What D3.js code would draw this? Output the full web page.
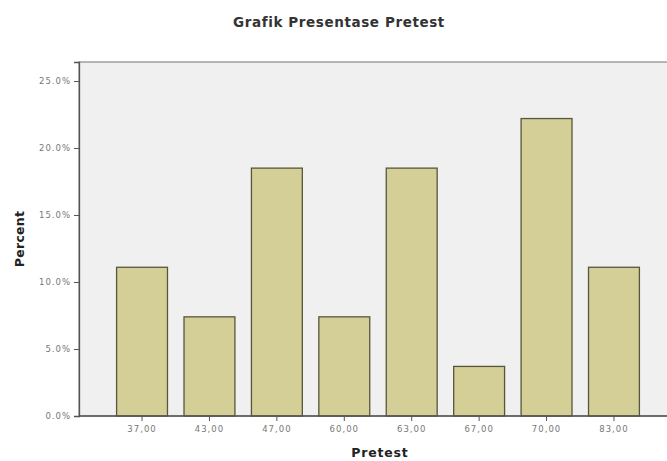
<!DOCTYPE html>
<html><head><meta charset="utf-8">
<script src="https://cdn.jsdelivr.net/npm/d3@7"></script>
<style>body{margin:0;background:#fff}svg{display:block}</style>
</head><body>
<script>
const categories = ["37,00","43,00","47,00","60,00","63,00","67,00","70,00","83,00"];
const percents = [11.1, 7.4, 18.5, 7.4, 18.5, 3.7, 22.2, 11.1];
const yTicks = [0, 5, 10, 15, 20, 25];
const title = "Grafik Presentase Pretest";
const xTitle = "Pretest";
const yTitle = "Percent";

const W = 667, H = 461;
const FONT = "'DejaVu Sans', Verdana, sans-serif";
const plot = {left: 79, top: 62, right: 668, bottom: 416};
const svg = d3.select("body").append("svg").attr("width", W).attr("height", H);

const y = d3.scaleLinear().domain([0, 26.42]).range([plot.bottom, plot.top]);
const x = d3.scaleBand().domain(categories).range([108.5, 647.5]).paddingInner(0.245).paddingOuter(0.12);

svg.append("rect").attr("x", plot.left).attr("y", plot.top)
  .attr("width", plot.right - plot.left).attr("height", plot.bottom - plot.top)
  .attr("fill", "#f0f0f0").attr("stroke", "#8a8a8a").attr("stroke-width", 1.2);

svg.append("g").selectAll("rect").data(percents).join("rect")
  .attr("x", (d, i) => x(categories[i]))
  .attr("y", d => y(d))
  .attr("width", x.bandwidth())
  .attr("height", d => y(0) - y(d))
  .attr("fill", "#d4cf96")
  .attr("stroke", "#56563c").attr("stroke-width", 1.3);

const yAxis = svg.append("g").attr("transform", `translate(${plot.left},0)`)
  .call(d3.axisLeft(y).tickValues(yTicks).tickSize(5).tickPadding(3).tickFormat(d => d.toFixed(1) + "%"));
yAxis.select(".domain").attr("stroke", "#555").attr("stroke-width", 1.3);
yAxis.selectAll(".tick line").attr("stroke", "#555");
yAxis.selectAll("text").attr("font-family", FONT).attr("font-size", 8.5).attr("letter-spacing", 1).attr("fill", "#777");

const xAxis = svg.append("g").attr("transform", `translate(0,${plot.bottom})`)
  .call(d3.axisBottom(x).tickSize(5).tickPadding(5));
xAxis.select(".domain").remove();
svg.append("line").attr("x1", plot.left).attr("x2", plot.right).attr("y1", plot.bottom).attr("y2", plot.bottom)
  .attr("stroke", "#555").attr("stroke-width", 1.3);
xAxis.selectAll(".tick line").attr("stroke", "#555");
xAxis.selectAll("text").attr("font-family", FONT).attr("font-size", 8.5).attr("letter-spacing", 1).attr("fill", "#777");

svg.append("text").attr("x", 339).attr("y", 27).attr("text-anchor", "middle")
  .attr("font-family", FONT).attr("font-weight", "bold").attr("font-size", 13.5).attr("letter-spacing", 0.6).attr("fill", "#333")
  .text(title);
svg.append("text").attr("x", 380).attr("y", 457).attr("text-anchor", "middle")
  .attr("font-family", FONT).attr("font-weight", "bold").attr("font-size", 12.5).attr("letter-spacing", 0.8).attr("fill", "#222")
  .text(xTitle);
svg.append("text").attr("transform", "translate(24,239) rotate(-90)").attr("text-anchor", "middle")
  .attr("font-family", FONT).attr("font-weight", "bold").attr("font-size", 12.5).attr("letter-spacing", 0.3).attr("fill", "#222")
  .text(yTitle);
</script>
</body></html>
